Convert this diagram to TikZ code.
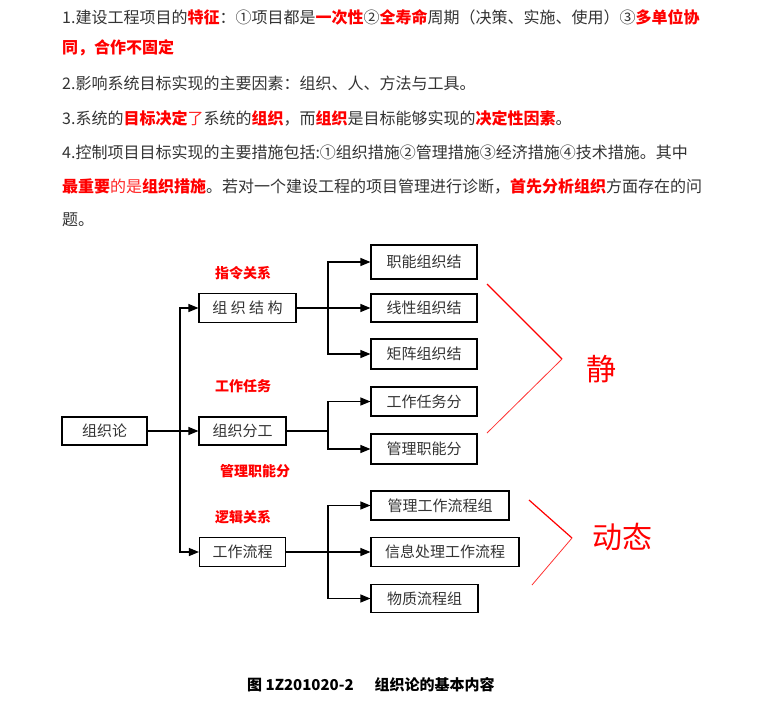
\documentclass[tikz,border=0pt]{standalone}
\usepackage{fontspec}
\newfontfamily\cjk{Noto Sans CJK SC}
\usetikzlibrary{arrows.meta}
\definecolor{txtgray}{HTML}{333333}
\definecolor{hired}{HTML}{FF0000}
\newcommand{\hl}[1]{{\bfseries\color{hired}#1}}
\newcommand{\lt}[1]{{\color{hired!85}#1}}
\tikzset{
  line/.style={anchor=west,inner sep=0pt,text=txtgray,font=\cjk\fontsize{16}{16}\selectfont},
  box/.style={draw,line width=1.1pt,inner sep=0pt,text=txtgray,font=\cjk\fontsize{15}{15}\selectfont},
  tag/.style={inner sep=0pt,text=hired,font=\cjk\bfseries\fontsize{14}{14}\selectfont},
  arr/.style={line width=1.1pt,-{Triangle[length=10pt,width=8pt]}},
  link/.style={line width=1.1pt},
  brace/.style={hired,line width=1.2pt}
}
\begin{document}
\begin{tikzpicture}[x=1pt,y=-1pt]
  \useasboundingbox (0,0) rectangle (760,702);
  % text above the chart
  \node[line] (l1) at (62,17) {1.建设工程项目的\hl{特征}：①项目都是\hl{一次性}②\hl{全寿命}周期（决策、实施、使用）③\hl{多单位协}};
  \node[line] (l2) at (62,48) {\hl{同，合作不固定}};
  \node[line] (l3) at (62,83) {2.影响系统目标实现的主要因素：组织、人、方法与工具。};
  \node[line] (l4) at (62,118) {3.系统的\hl{目标决定}\lt{了}系统的\hl{组织}，而\hl{组织}是目标能够实现的\hl{决定性因素}。};
  \node[line] (l5) at (62,152) {4.控制项目目标实现的主要措施包括:①组织措施②管理措施③经济措施④技术措施。其中};
  \node[line] (l6) at (62,186) {\hl{最重要}\lt{的是}\hl{组织措施}。若对一个建设工程的项目管理进行诊断，\hl{首先分析组织}方面存在的问};
  \node[line] (l7) at (62,220) {题。};

  % boxes
  \node[box,minimum width=85pt,minimum height=28pt] (lun) at (104.5,431) {组织论};
  \node[box,minimum width=97pt,minimum height=29pt] (jiegou) at (247.5,308) {组 织 结 构};
  \node[box,minimum width=87pt,minimum height=28pt] (fengong) at (242.5,431) {组织分工};
  \node[box,minimum width=86pt,minimum height=29pt] (liucheng) at (242.5,552) {工作流程};
  \node[box,minimum width=106pt,minimum height=34pt] (zhineng) at (424,262) {职能组织结};
  \node[box,minimum width=106pt,minimum height=28pt] (xianxing) at (424,308) {线性组织结};
  \node[box,minimum width=106pt,minimum height=30pt] (juzhen) at (424,354) {矩阵组织结};
  \node[box,minimum width=106pt,minimum height=29pt] (renwu) at (424,401.5) {工作任务分};
  \node[box,minimum width=106pt,minimum height=30pt] (guanli) at (424,449) {管理职能分};
  \node[box,minimum width=138pt,minimum height=29pt] (gzlc) at (440,505.5) {管理工作流程组};
  \node[box,minimum width=148pt,minimum height=29pt] (xinxi) at (445,552) {信息处理工作流程};
  \node[box,minimum width=107pt,minimum height=28pt] (wuzhi) at (424.5,598.5) {物质流程组};

  % red tags
  \node[tag] (t1) at (243,273) {指令关系};
  \node[tag] (t2) at (243,386) {工作任务};
  \node[tag] (t3) at (255,471) {管理职能分};
  \node[tag] (t4) at (243,517) {逻辑关系};

  % connectors
  \coordinate (spine) at (180,431);
  \coordinate (b1) at (328,308);
  \coordinate (b2) at (328,431);
  \coordinate (b3) at (328,552);
  \draw[arr] (lun.east) -- (fengong.west);
  \draw[arr] (spine) |- (jiegou.west);
  \draw[arr] (spine) |- (liucheng.west);
  \draw[arr] (jiegou.east) -- (xianxing.west);
  \draw[arr] (b1) |- (zhineng.west);
  \draw[arr] (b1) |- (juzhen.west);
  \draw[link] (fengong.east) -- (b2);
  \draw[arr] (b2) |- (renwu.west);
  \draw[arr] (b2) |- (guanli.west);
  \draw[arr] (liucheng.east) -- (xinxi.west);
  \draw[arr] (b3) |- (gzlc.west);
  \draw[arr] (b3) |- (wuzhi.west);

  % static / dynamic marks
  \coordinate (s1) at (487,284);
  \coordinate (s2) at (562,359);
  \coordinate (s3) at (487,433);
  \coordinate (d1) at (529,500);
  \coordinate (d2) at (572,538);
  \coordinate (d3) at (532,585);
  \draw[brace] (s1) -- (s2);
  \draw[brace,line width=0.8pt,hired!80] (s2) -- (s3);
  \draw[brace] (d1) -- (d2);
  \draw[brace,line width=0.8pt,hired!80] (d2) -- (d3);
  \node[inner sep=0pt,text=hired,font=\cjk\fontsize{30}{30}\selectfont] (jing) at (601,369) {静};
  \node[inner sep=0pt,text=hired,font=\cjk\fontsize{30}{30}\selectfont] (dongtai) at (622,537) {动态};

  % caption
  \node[inner sep=0pt,anchor=west,font=\cjk\bfseries\fontsize{15}{15}\selectfont] (cap) at (247,685) {图 1Z201020-2\hspace{21pt}组织论的基本内容};
\end{tikzpicture}
\end{document}
